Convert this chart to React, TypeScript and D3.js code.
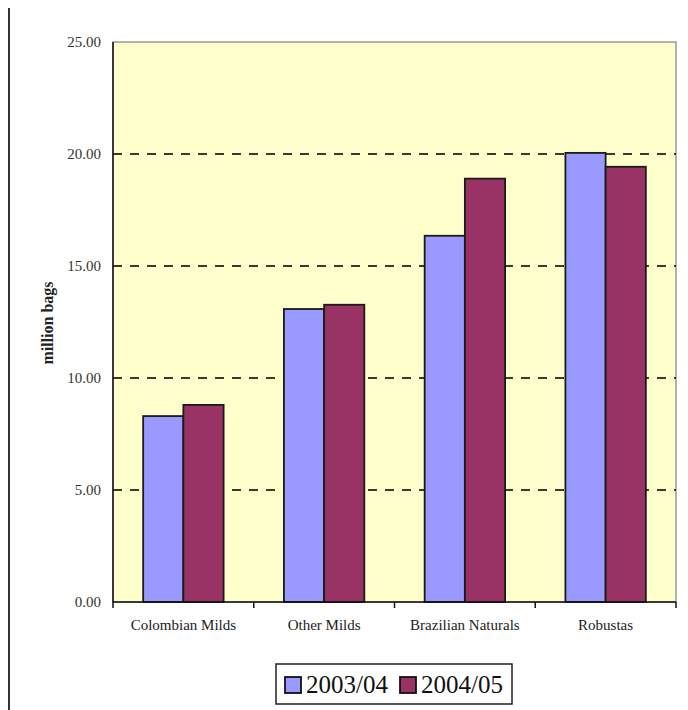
import React from "react";
import * as d3 from "d3";

const categories = ["Colombian Milds", "Other Milds", "Brazilian Naturals", "Robustas"];
const seriesNames = ["2003/04", "2004/05"];
const values2003 = [8.3, 13.08, 16.35, 20.05];
const values2004 = [8.8, 13.27, 18.9, 19.43];
const yTicks = [0, 5, 10, 15, 20, 25];
const colors = ["#9999FF", "#993366"];

const ts = (size: number, bold = false): React.CSSProperties => ({
  fontFamily: "Liberation Serif",
  fontSize: size,
  fontWeight: bold ? "bold" : "normal",
});

export default function App() {
  const W = 688, H = 710;
  const left = 113, right = 676, top = 42, bottom = 602;
  const y = d3.scaleLinear().domain([0, 25]).range([bottom, top]);
  const x = d3.scaleBand().domain(categories).range([left, right]);
  const bw = x.bandwidth() / 3.5;
  const series = [values2003, values2004];
  return (
    <svg width={W} height={H} style={{ position: "absolute", left: 0, top: 0 }}>
      <rect x={0} y={0} width={W} height={H} fill="#fff" />
      <line x1={9} x2={9} y1={8} y2={710} stroke="#333" strokeWidth={2} />
      <rect x={left} y={top} width={right - left} height={bottom - top} fill="#FFFFCC" stroke="#999" strokeWidth={1.5} />
      {yTicks.filter(t => t > 0 && t < 25).map(t => (
        <line key={t} x1={left} x2={right} y1={y(t)} y2={y(t)} stroke="#3a3a33" strokeWidth={2.2} strokeDasharray="9,8" />
      ))}
      {categories.map((c, i) =>
        series.map((s, j) => {
          const bx = (x(c) as number) + x.bandwidth() / 2 - bw + j * bw;
          return (
            <rect key={c + j} x={bx} y={y(s[i])} width={bw} height={bottom - y(s[i])}
              fill={colors[j]} stroke="#1a1a1a" strokeWidth={1.8} />
          );
        })
      )}
      <line x1={left} x2={left} y1={top} y2={bottom} stroke="#111" strokeWidth={1.5} />
      <line x1={left} x2={right} y1={bottom} y2={bottom} stroke="#111" strokeWidth={1.5} />
      {categories.concat([""]).map((c, i) => {
        const tx = left + i * x.step();
        return <line key={"t" + i} x1={tx} x2={tx} y1={bottom} y2={bottom + 6} stroke="#111" strokeWidth={1.5} />;
      })}
      {yTicks.map(t => (
        <text key={"y" + t} x={101} y={y(t)} dy="0.35em" textAnchor="end" style={ts(15)} fill="#333">
          {t.toFixed(2)}
        </text>
      ))}
      {categories.map(c => (
        <text key={"x" + c} x={(x(c) as number) + x.bandwidth() / 2} y={630} textAnchor="middle" style={ts(15)} fill="#222">
          {c}
        </text>
      ))}
      <text transform={`translate(53,323) rotate(-90)`} textAnchor="middle" style={ts(16, true)} fill="#222">
        million bags
      </text>
      <rect x={276} y={664} width={236} height={40} fill="#fff" stroke="#222" strokeWidth={1.5} />
      {seriesNames.map((n, j) => (
        <g key={n} transform={`translate(${285 + j * 115},0)`}>
          <rect x={0} y={677} width={16} height={16} fill={colors[j]} stroke="#111" strokeWidth={1.8} />
          <text x={21} y={693} style={ts(25)} fill="#111">{n}</text>
        </g>
      ))}
    </svg>
  );
}
